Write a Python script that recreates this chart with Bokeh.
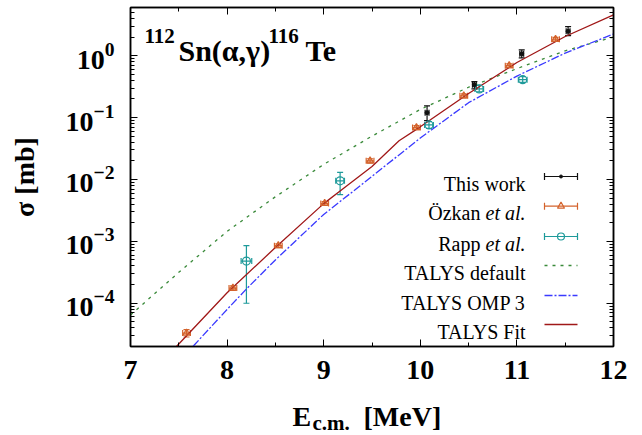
import math
from bokeh.plotting import figure
from bokeh.layouts import column
from bokeh.models import (Range1d, FixedTicker, LogAxis, LinearAxis, Label, Whisker,
                          TeeHead, ColumnDataSource, CustomJSTickFormatter)
from bokeh.embed import file_html
from bokeh.resources import INLINE

# ---------------- data ----------------
# This work
tw_e = [10.07, 10.56, 11.05, 11.53]
tw_s = [0.12, 0.34, 1.07, 2.48]
tw_s_lo = [0.089, 0.29, 0.92, 2.10]
tw_s_hi = [0.155, 0.38, 1.24, 2.95]
tw_de = [0.02, 0.02, 0.02, 0.02]

# Oezkan et al.
oz_e = [7.58, 8.06, 8.53, 9.01, 9.48, 9.96, 10.45, 10.92, 11.40]
oz_s = [3.3e-5, 1.76e-4, 8.5e-4, 4.1e-3, 0.0200, 0.069, 0.225, 0.69, 1.84]
oz_ds = [0.45e-5, 0.15e-4, 0.6e-4, 0.3e-3, 0.0016, 0.005, 0.017, 0.05, 0.14]
oz_de = [0.04, 0.04, 0.04, 0.04, 0.04, 0.04, 0.04, 0.04, 0.04]

# Rapp et al.
rp_e = [8.20, 9.17, 10.09, 10.61, 11.06]
rp_s = [4.8e-4, 9.5e-3, 0.076, 0.29, 0.41]
rp_s_lo = [1.0e-4, 5.7e-3, 0.067, 0.26, 0.37]
rp_s_hi = [8.5e-4, 1.3e-2, 0.086, 0.33, 0.46]
rp_de = [0.055, 0.045, 0.045, 0.045, 0.045]

# TALYS default
td_e = [7.0, 7.5, 8.0, 8.5, 9.0, 9.5, 10.0, 10.5, 11.0, 11.5, 12.0]
td_s = [6.46e-5, 3.16e-4, 1.45e-3, 5.25e-3, 0.0175, 0.0501, 0.135, 0.309, 0.617, 1.20, 2.00]

# TALYS OMP 3
to_e = [7.55, 8.0, 8.2, 8.5, 9.0, 9.5, 10.0, 10.5, 11.0, 11.5, 12.0]
to_s = [1.38e-5, 7.94e-5, 1.70e-4, 5.01e-4, 2.72e-3, 0.0112, 0.0468, 0.174, 0.468, 1.10, 2.24]

# TALYS Fit
tf_e = [7.4, 7.5, 8.0, 8.5, 9.0, 9.2, 9.5, 9.78, 10.0, 10.5, 11.0, 11.5, 12.0]
tf_s = [1.51e-5, 2.19e-5, 1.48e-4, 7.94e-4, 4.07e-3, 7.08e-3, 0.0162, 0.0421, 0.0708,
        0.245, 0.776, 2.04, 4.57]

x_ticks = [7, 8, 9, 10, 11, 12]
x_minor = [7.5, 8.5, 9.5, 10.5, 11.5]
y_ticks = [1e-4, 1e-3, 1e-2, 1e-1, 1e0]

legend_labels = ["This work", "Özkan", "Rapp", "TALYS default", "TALYS OMP 3", "TALYS Fit"]

# ---------------- styles ----------------
C_TW = "#111111"
C_OZ = "#d4632c"
C_RP = "#1e9a9a"
C_TD = "#3a8a3a"
C_TO = "#3a3aff"
C_TF = "#a01818"
FONT = "Liberation Serif"

X0, X1 = 7.0, 12.0
Y0, Y1 = 2e-5, 6.0
W = 642
H_MAIN, H_XT = 397, 38
L, R, T, B = 130, 29, 7, H_MAIN - 346
FW, FH = W - L - R, H_MAIN - T - B

p = figure(width=W, height=H_MAIN, output_backend="svg", toolbar_location=None,
           y_axis_type="log", x_range=Range1d(X0, X1), y_range=Range1d(Y0, Y1),
           min_border_left=L, min_border_right=R, min_border_top=T, min_border_bottom=B)
p.grid.visible = False
p.outline_line_color = "black"
p.outline_line_width = 1.5
p.background_fill_color = "white"
p.border_fill_color = "white"

xt = FixedTicker(ticks=x_ticks, minor_ticks=x_minor)
ymin_list = [k * 10.0 ** n for n in range(-5, 1) for k in range(2, 10)]
yt = FixedTicker(ticks=y_ticks, minor_ticks=ymin_list)


def style_axis(ax):
    ax.axis_line_color = "black"
    ax.axis_line_width = 1.5
    ax.major_tick_in = 7
    ax.major_tick_out = 0
    ax.minor_tick_in = 4
    ax.minor_tick_out = 0
    ax.major_tick_line_color = "black"
    ax.minor_tick_line_color = "black"
    ax.major_label_text_font = FONT
    ax.major_label_text_font_style = "bold"
    ax.major_label_text_font_size = "28px"
    ax.major_label_text_color = "black"


xa = p.xaxis[0]
xa.ticker = xt
style_axis(xa)
xa.major_label_standoff = 14

ya = p.yaxis[0]
ya.ticker = yt
style_axis(ya)
ya.major_label_standoff = 16
ya.axis_label = "σ [mb]"
ya.axis_label_text_font = FONT
ya.axis_label_text_font_style = "bold"
ya.axis_label_text_font_size = "28px"
ya.axis_label_text_color = "black"
ya.axis_label_standoff = 23

empty = CustomJSTickFormatter(code="return ''")
top = LinearAxis(ticker=xt, formatter=empty)
style_axis(top)
top.major_label_standoff = 0
p.add_layout(top, "above")
right = LogAxis(ticker=yt, formatter=empty)
style_axis(right)
right.major_label_standoff = 0
p.add_layout(right, "right")

# ---------------- curves ----------------
p.line(td_e, td_s, line_color=C_TD, line_width=1.3, line_dash="3 5")
p.line(to_e, to_s, line_color=C_TO, line_width=1.3, line_dash="8 2 2 2")
p.line(tf_e, tf_s, line_color=C_TF, line_width=1.3)


# ---------------- data with error bars ----------------
def errbars(e, s, slo, shi, de, color, head=6):
    src = ColumnDataSource(dict(e=e, s=s, slo=slo, shi=shi,
                                elo=[a - d for a, d in zip(e, de)],
                                ehi=[a + d for a, d in zip(e, de)]))
    for dim, base, lo, hi in (("height", "e", "slo", "shi"), ("width", "s", "elo", "ehi")):
        p.add_layout(Whisker(source=src, base=base, lower=lo, upper=hi, dimension=dim,
                             line_color=color, line_width=1.2,
                             upper_head=TeeHead(size=head, line_color=color, line_width=1.2),
                             lower_head=TeeHead(size=head, line_color=color, line_width=1.2)))
    return src


oz_lo = [a - d for a, d in zip(oz_s, oz_ds)]
oz_hi = [a + d for a, d in zip(oz_s, oz_ds)]
src_oz = errbars(oz_e, oz_s, oz_lo, oz_hi, oz_de, C_OZ)
p.scatter("e", "s", source=src_oz, marker="triangle", size=7, line_color=C_OZ,
          fill_color=C_OZ, fill_alpha=0.35, line_width=1.2)

src_rp = errbars(rp_e, rp_s, rp_s_lo, rp_s_hi, rp_de, C_RP)
p.scatter("e", "s", source=src_rp, marker="circle", size=8, line_color=C_RP,
          fill_color=None, line_width=1.2)

src_tw = errbars(tw_e, tw_s, tw_s_lo, tw_s_hi, tw_de, C_TW, head=6)
p.scatter("e", "s", source=src_tw, marker="circle", size=4, line_color=C_TW, fill_color=C_TW)


# ---------------- legend (label left, sample right) ----------------
def dx(px):
    return X0 + (px - L) / FW * (X1 - X0)


def dy(py):
    l0, l1 = math.log10(Y0), math.log10(Y1)
    return 10 ** (l1 - (py - T) / FH * (l1 - l0))


rows = [176, 205.7, 236, 265, 295, 324]
sx0, sx1 = dx(544), dx(577)
txt_x = 525 - L


def mklab(text, x, y, size="20px", style="normal", align="left"):
    return Label(x=x, y=y, x_units="screen", y_units="screen", text=text,
                 text_font=FONT, text_font_size=size, text_font_style=style,
                 text_align=align, text_baseline="alphabetic", text_color="black")


def lab(*a, **k):
    p.add_layout(mklab(*a, **k))


for i, r in enumerate(rows):
    base = H_MAIN - B - (r + 7)
    if i in (1, 2):
        lab("et al.", txt_x, base, style="italic", align="right")
        lab(legend_labels[i], txt_x - 45, base, align="right")
    else:
        lab(legend_labels[i], txt_x, base, align="right")

samp_cols = [C_TW, C_OZ, C_RP]
for i in range(3):
    yy = dy(rows[i])
    s = ColumnDataSource(dict(b=[yy], lo=[sx0], hi=[sx1], x=[(sx0 + sx1) / 2], y=[yy]))
    p.add_layout(Whisker(source=s, base="b", lower="lo", upper="hi", dimension="width",
                         line_color=samp_cols[i], line_width=1.2,
                         upper_head=TeeHead(size=7, line_color=samp_cols[i], line_width=1.2),
                         lower_head=TeeHead(size=7, line_color=samp_cols[i], line_width=1.2)))
    if i == 0:
        p.scatter("x", "y", source=s, marker="circle", size=3, color=C_TW)
    elif i == 1:
        p.scatter("x", "y", source=s, marker="triangle", size=7, line_color=C_OZ,
                  fill_color=None, line_width=1.2)
    else:
        p.scatter("x", "y", source=s, marker="circle", size=7, line_color=C_RP,
                  fill_color=None, line_width=1.2)

p.line([sx0, sx1], [dy(rows[3])] * 2, line_color=C_TD, line_width=1.3, line_dash="3 5")
p.line([sx0, sx1], [dy(rows[4])] * 2, line_color=C_TO, line_width=1.3, line_dash="8 2 2 2")
p.line([sx0, sx1], [dy(rows[5])] * 2, line_color=C_TF, line_width=1.3)

# ---------------- title ----------------
lab("112", 14, 311, size="21px", style="bold")
lab("Sn(α,γ)", 48, 296, size="30px", style="bold")
lab("116", 138, 311, size="21px", style="bold")
lab("Te", 175, 296, size="30px", style="bold")

# ---------------- x axis title: a strip below the chart ----------------
q = figure(width=W, height=H_XT, output_backend="svg", toolbar_location=None,
           x_range=Range1d(0, 1), y_range=Range1d(0, 1), min_border=0)
q.axis.visible = False
q.grid.visible = False
q.outline_line_color = None
q.background_fill_color = "white"
q.border_fill_color = "white"
XOFF = 133
for text, x, y, size in (("E", 295, 19, "28px"), ("c.m.", 315, 13, "21px"),
                         ("[MeV]", 366, 19, "28px")):
    q.add_layout(mklab(text, x - XOFF, y, size=size, style="bold"))

open("out.html", "w").write(file_html(column(p, q, spacing=0), INLINE))
